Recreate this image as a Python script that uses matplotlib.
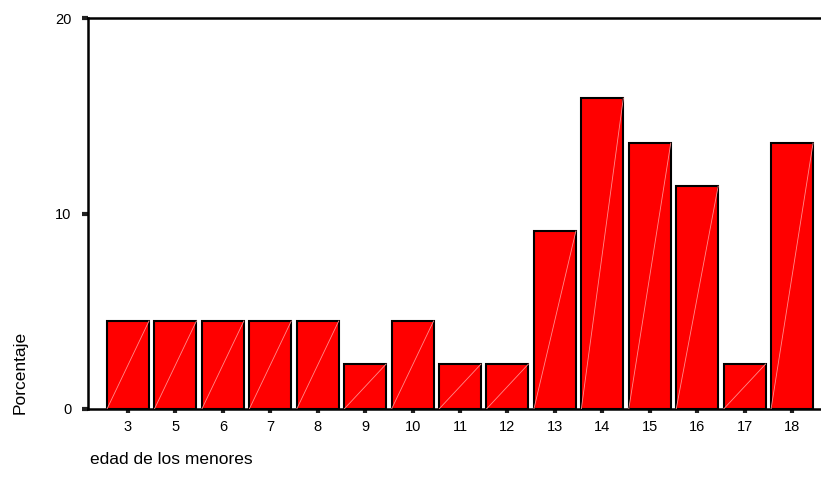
import matplotlib
matplotlib.use("Agg")
import matplotlib.pyplot as plt
import numpy as np

plt.rcParams["font.family"] = ["Liberation Sans", "DejaVu Sans"]

edades = ["3", "5", "6", "7", "8", "9", "10", "11", "12", "13", "14", "15", "16", "17", "18"]
porcentaje = [4.5, 4.5, 4.5, 4.5, 4.5, 2.3, 4.5, 2.3, 2.3, 9.1, 15.9, 13.6, 11.4, 2.3, 13.6]

W, H = 821, 483
fig = plt.figure(figsize=(W / 100, H / 100), dpi=100)
ax = fig.add_axes([88 / W, 1 - 409 / H, 1 - 88 / W, (409 - 18) / H])

x = np.arange(len(edades))
bw = 0.885
ax.bar(x, porcentaje, width=bw, color="#ff0000", edgecolor="black", linewidth=1.5, zorder=2)
# faint diagonal inside each bar
for xi, v in zip(x, porcentaje):
    ax.plot([xi - bw / 2, xi + bw / 2], [0, v], color="#ff8c8c", linewidth=0.6, zorder=3)

ax.set_xlim(-0.843, 14.61)
ax.set_ylim(0, 20)
ax.set_xticks(x)
ax.set_xticklabels(edades, fontsize=10.5)
ax.set_yticks([0, 10, 20])
ax.set_yticklabels(["0", "10", "20"], fontsize=10.5)
ax.tick_params(axis="x", length=3, width=3, pad=5, color="#222222")
ax.tick_params(axis="y", length=4, width=3, pad=8, color="#222222")

for side in ["top", "left", "bottom"]:
    ax.spines[side].set_linewidth(1.8)
ax.spines["right"].set_visible(False)

fig.text(90 / W, 1 - 459 / H, "edad de los menores", fontsize=12.5, ha="left", va="center")
fig.text(20 / W, 1 - 372 / H, "Porcentaje", fontsize=12.5, rotation=90, ha="center", va="center")

fig.savefig("out.png", dpi=100)
